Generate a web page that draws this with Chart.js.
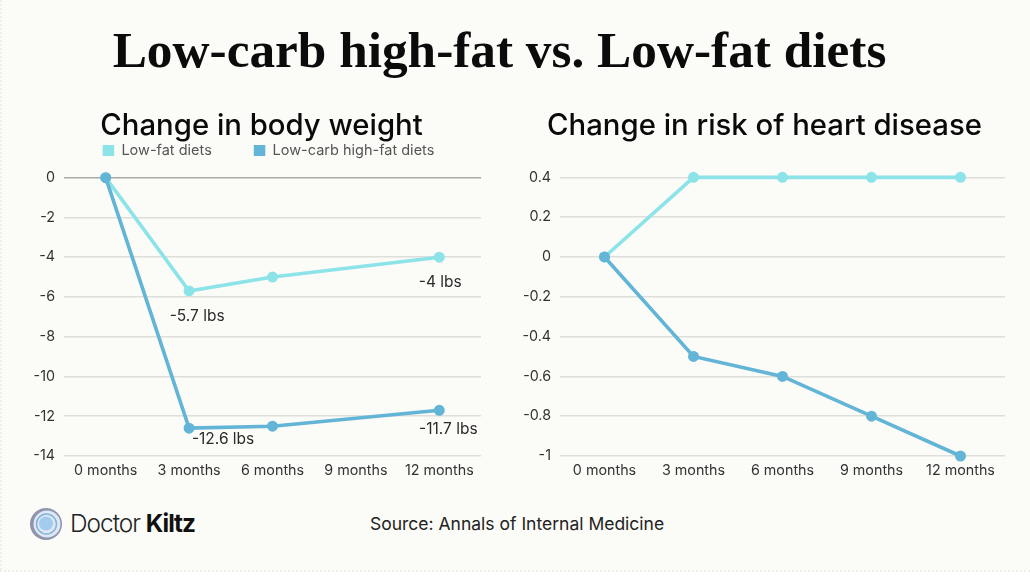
<!DOCTYPE html>
<html><head><meta charset="utf-8">
<script src="https://cdn.jsdelivr.net/npm/chart.js@4/dist/chart.umd.min.js"></script>
<style>
html,body{margin:0;padding:0;background:#fff}
#page{position:relative;width:1030px;height:577px;overflow:hidden;background:#FBFBF7}
#page>*{position:absolute}
#edge{left:0;top:570px;width:1030px;height:7px;background:#fff;border-top:2px dotted #eeeeea}
#edgeL{left:0;top:0;width:0;height:570px;border-left:2px dotted #eeeeea}
#main{left:0;width:999px;top:20px;text-align:center;font:bold 51.3px "Liberation Serif",serif;color:#0b0b0b;white-space:nowrap}
#src{left:370px;top:513px;font:400 17.5px Inter,sans-serif;color:#222;white-space:nowrap}
#brand{left:70px;top:508px;font:300 24.4px Inter,sans-serif;color:#222;letter-spacing:-1px;white-space:nowrap}
#brand b{font-weight:700;color:#111}
#logo{left:29px;top:507px}
</style></head><body>
<div id="page">
<div id="edge"></div><div id="edgeL"></div>
<div id="main">Low-carb high-fat vs. Low-fat diets</div>
<canvas id="c1"></canvas><canvas id="c2"></canvas>
<svg id="logo" width="34" height="34" viewBox="0 0 34 34"><circle cx="17" cy="17" r="16" fill="#8f93ad"/><circle cx="18" cy="17" r="13.5" fill="#dfe8f2"/><circle cx="17.5" cy="17" r="10" fill="none" stroke="#7fb5de" stroke-width="1.5"/><circle cx="17" cy="16.5" r="7" fill="#a3cbee"/></svg>
<div id="brand">Doctor <b>Kiltz</b></div>
<div id="src">Source: Annals of Internal Medicine</div>
</div>
<script>
const months = ["0 months","3 months","6 months","9 months","12 months"];
const seriesNames = ["Low-fat diets","Low-carb high-fat diets"];
const weightLowFat = [0,-5.7,-5,null,-4];
const weightLowCarb = [0,-12.6,-12.5,null,-11.7];
const riskLowFat = [0,0.4,0.4,0.4,0.4];
const riskLowCarb = [0,-0.5,-0.6,-0.8,-1];
const weightNotes = [
  {series:0,index:1,text:"-5.7 lbs",dx:8,dy:25},
  {series:0,index:4,text:"-4 lbs",dx:1,dy:25},
  {series:1,index:1,text:"-12.6 lbs",dx:34,dy:11},
  {series:1,index:4,text:"-11.7 lbs",dx:9,dy:19}
];
const FONT = "Inter, sans-serif";
const LIGHT = "#8CE3E8", DARK = "#62B5D6";

const notesPlugin = {
  id:"notes",
  afterLayout(chart,args,opts){
    const t = chart.titleBlock, l = chart.legend;
    if(t){t.left+=opts.titleDx;t.right+=opts.titleDx;t.top+=opts.titleDy;t.bottom+=opts.titleDy;}
    if(l&&opts.legendDx!==undefined){l.left+=opts.legendDx;l.right+=opts.legendDx;l.top+=opts.legendDy;l.bottom+=opts.legendDy;}
  },
  afterDatasetsDraw(chart,args,opts){
    const ctx = chart.ctx;
    ctx.save();
    ctx.font = "400 15.5px "+FONT;
    ctx.fillStyle = "#2b2b2b";
    ctx.textAlign = "center"; ctx.textBaseline = "middle";
    (opts.items||[]).forEach(n=>{
      const el = chart.getDatasetMeta(n.series).data[n.index];
      ctx.fillText(n.text, el.x+n.dx, el.y+n.dy);
    });
    ctx.restore();
  }
};

function makeChart(cfg){
  const c = document.getElementById(cfg.id);
  c.style.left = cfg.left+"px"; c.style.top = cfg.top+"px";
  c.style.width = cfg.width+"px"; c.style.height = cfg.height+"px";
  c.style.position = "absolute";
  const ds = (label,data,color,order)=>({label,data,order,borderColor:color,backgroundColor:color,
    pointBackgroundColor:color,pointBorderColor:color,pointRadius:3.7,pointHoverRadius:3.7,borderWidth:3.6,
    spanGaps:true,tension:0,fill:false,clip:false});
  return new Chart(c,{
    type:"line",
    data:{labels:months,datasets:[ds(seriesNames[0],cfg.a,LIGHT,2),ds(seriesNames[1],cfg.b,DARK,1)]},
    plugins:[notesPlugin],
    options:{
      responsive:false,animation:false,devicePixelRatio:1,
      layout:{padding:{left:0,right:cfg.padRight,top:0,bottom:0}},
      plugins:{
        tooltip:{enabled:false},
        title:{display:true,text:cfg.title,color:"#0a0a0a",font:{family:FONT,size:29.3,weight:"500"},padding:{top:cfg.titleTop,bottom:cfg.titleBottom}},
        legend:{display:cfg.legend,position:"top",reverse:true,
          labels:{boxWidth:11.5,boxHeight:11,padding:42,color:"#555",font:{family:FONT,size:14.5},
            generateLabels(chart){
              const items = Chart.defaults.plugins.legend.labels.generateLabels(chart);
              items.forEach(i=>{i.lineWidth=0;});
              return items;
            }}},
        notes:Object.assign({items:cfg.notes},cfg.shift)
      },
      scales:{
        x:{offset:true,grid:{display:false},border:{display:false},
          ticks:{color:"#333",font:{family:FONT,size:14.3},padding:-2,maxRotation:0,autoSkip:false},
          afterFit(s){s.height=cfg.xHeight;}},
        y:{min:cfg.min,max:cfg.max,border:{display:false},
          grid:{drawTicks:false,lineWidth:1.5,color:t=>t.tick.value===0?"#A9A9A7":"#DEDEDA"},
          ticks:{stepSize:cfg.step,color:"#333",font:{family:FONT,size:14.3},padding:9,
            callback:v=>String(Number(v.toFixed(1)))},
          afterFit(s){s.width=cfg.yWidth;}}
      }
    }
  });
}
makeChart({id:"c1",left:0,top:62,width:523,height:424,padRight:42,yWidth:64,xHeight:30,
  title:"Change in body weight",titleTop:10,titleBottom:4,legend:true,a:weightLowFat,b:weightLowCarb,min:-14,max:0,step:2,notes:weightNotes,
  shift:{titleDx:21,titleDy:37,legendDx:28,legendDy:-10}});
makeChart({id:"c2",left:500,top:100,width:528,height:386,padRight:23,yWidth:60,xHeight:30,
  title:"Change in risk of heart disease",titleTop:10,titleBottom:32.2,legend:false,a:riskLowFat,b:riskLowCarb,min:-1,max:0.4,step:0.2,notes:[],
  shift:{titleDx:12,titleDy:-1}});
</script>
</body></html>
